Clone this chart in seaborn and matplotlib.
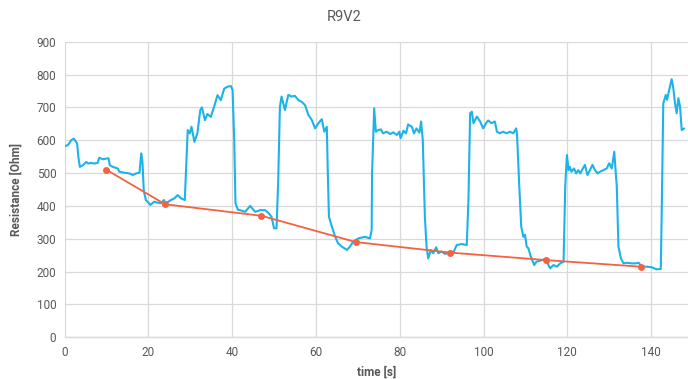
import matplotlib
matplotlib.use("Agg")
import matplotlib.pyplot as plt
import seaborn as sns
import pandas as pd

# Measured resistance trace
time_s = [0, 0.8, 1.6, 2.2, 2.5, 3.0, 3.3, 3.65, 4.4, 5.2, 5.6, 6.3, 7.1, 7.9, 8.3, 9.1, 9.9, 10.5,
          10.8, 11.5, 12.7, 13.1, 14.3, 15.5, 16.3, 17.1, 17.9, 18.3, 18.6, 18.9, 19.4, 19.8, 20.5,
          21.4, 22.2, 23.0, 23.7, 24.2, 25.4, 26.2, 27.0, 27.8, 28.7, 29.0, 29.4, 29.9, 30.3, 31.0,
          31.7, 32.4, 32.8, 33.5, 34.1, 34.9, 35.7, 36.5, 37.3, 38.1, 38.9, 39.7, 40.1, 40.5, 40.8,
          41.4, 41.9, 43.1, 44.3, 45.5, 46.7, 47.9, 48.7, 49.4, 50.0, 50.6, 51.0, 51.4, 51.8, 52.6,
          53.4, 54.2, 55.0, 55.8, 56.6, 57.4, 58.2, 59.0, 59.8, 60.6, 61.4, 62.0, 62.6, 62.8, 63.1,
          63.8, 64.6, 65.3, 66.2, 67.4, 68.1, 68.9, 70.1, 71.7, 72.9, 73.3, 73.4, 73.9, 74.3, 74.9,
          75.5, 76.0, 76.9, 77.7, 78.5, 79.3, 79.9, 80.2, 80.9, 81.5, 82.0, 82.9, 83.4, 84.0, 84.7,
          85.1, 85.5, 86.0, 86.4, 86.8, 87.4, 88.0, 88.7, 89.2, 90.0, 90.8, 91.8, 92.8, 93.6, 94.8,
          96.0, 96.4, 96.8, 97.2, 97.6, 98.4, 99.2, 99.9, 100.6, 101.1, 101.9, 102.7, 103.2, 103.9,
          104.7, 105.5, 106.3, 107.1, 107.8, 108.0, 108.5, 109.0, 109.5, 109.9, 110.3, 110.7, 111.3,
          112.1, 112.6, 113.5, 114.3, 115.1, 115.9, 116.7, 117.5, 118.3, 119.1, 119.5, 119.9, 120.3,
          120.6, 121.0, 121.6, 122.1, 122.6, 123.1, 123.7, 124.2, 124.8, 125.4, 126.0, 126.6, 127.2,
          127.8, 128.6, 129.4, 130.0, 130.6, 131.2, 131.8, 132.2, 132.8, 133.4, 134.2, 135.4, 136.2,
          137.0, 137.8, 139.0, 140.2, 141.3, 142.3, 142.5, 142.9, 143.5, 143.8, 144.3, 144.9, 145.3,
          145.7, 146.1, 146.5, 146.9, 147.3, 147.9]
resistance_ohm = [582, 585, 600, 605, 600, 590, 550, 519, 524, 534, 529, 531, 529, 531, 547, 542, 544, 545,
                  524, 519, 514, 504, 501, 499, 494, 499, 501, 560, 534, 448, 418, 413, 403,
                  413, 410, 408, 418, 408, 418, 423, 433, 423, 418, 509, 631, 621, 641, 595,
                  621, 692, 700, 661, 680, 671, 702, 737, 722, 757, 763, 765, 753, 600, 408,
                  388, 387, 382, 400, 382, 387, 387, 378, 367, 332, 332, 479, 702, 733, 692,
                  738, 733, 735, 722, 717, 707, 677, 662, 636, 652, 664, 626, 641, 519, 367,
                  337, 306, 286, 276, 266, 276, 291, 301, 306, 301, 327, 500, 697, 626, 631,
                  633, 621, 626, 619, 624, 616, 626, 606, 629, 621, 648, 641, 621, 636, 623,
                  657, 601, 367, 276, 240, 266, 256, 274, 256, 261, 254, 258, 258, 281, 284,
                  281, 418, 682, 687, 652, 672, 657, 636, 652, 660, 652, 657, 626, 621,
                  626, 621, 626, 621, 636, 616, 469, 337, 306, 312, 276, 271, 245,
                  220, 230, 233, 237, 230, 210, 220, 215, 225, 230, 459, 555, 509,
                  519, 504, 514, 499, 509, 499, 514, 525, 494, 509, 525, 509, 499,
                  504, 509, 514, 530, 514, 565, 459, 276, 240, 225, 227, 225, 225,
                  227, 215, 215, 213, 207, 208, 357, 712, 738, 723, 753, 786, 758,
                  712, 682, 728, 702, 631, 636]

# Baseline points taken at the minima of each cycle
baseline_time = [10, 24, 47, 69.5, 92, 115, 137.5]
baseline_ohm = [510, 405, 370, 290, 258, 235, 215]

trace = pd.DataFrame({"time": time_s, "resistance": resistance_ohm})
base = pd.DataFrame({"time": baseline_time, "resistance": baseline_ohm})

sns.set_theme(style="white")
plt.rcParams["font.family"] = ["Roboto", "DejaVu Sans"]

grey_text = "#595959"
grid_col = "#d9d9d9"

fig = plt.figure(figsize=(6.88, 3.79), dpi=100)
ax = fig.add_axes([0.0938, 0.110, 0.9062, 0.780])

sns.lineplot(data=trace, x="time", y="resistance", ax=ax, color="#1cb2ea",
             linewidth=1.5, estimator=None, sort=False, zorder=2)
sns.lineplot(data=base, x="time", y="resistance", ax=ax, color="#f4623f",
             linewidth=1.3, marker="o", markersize=5, markeredgewidth=0,
             estimator=None, sort=False, zorder=3)

ax.set_xlim(0, 148.8)
ax.set_ylim(0, 900)
ax.set_xticks(range(0, 141, 20))
ax.set_yticks(range(0, 901, 100))
ax.grid(True, color=grid_col, linewidth=0.9)
ax.set_axisbelow(True)
for side in ["top", "right", "left"]:
    ax.spines[side].set_visible(False)
ax.spines["bottom"].set_color(grid_col)
ax.spines["bottom"].set_linewidth(1.0)
ax.tick_params(axis="both", length=0, labelsize=8.5, labelcolor=grey_text, pad=6)

ax.set_xlabel("time [s]", fontsize=8.5, fontweight="bold", color=grey_text, labelpad=2)
ax.xaxis.set_label_coords(0.5, -0.095)
ax.set_ylabel("Resistance [Ohm]", fontsize=8.5, fontweight="bold", color=grey_text, labelpad=10)
fig.text(0.5, 0.955, "R9V2", ha="center", va="center", fontsize=10.5, color=grey_text)

fig.savefig("out.png", dpi=100)
